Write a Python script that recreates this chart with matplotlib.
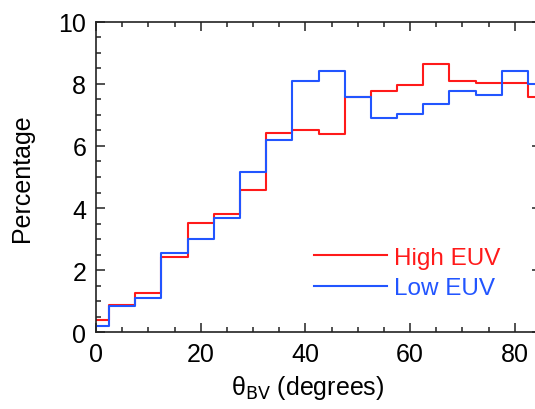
import numpy as np
import matplotlib.pyplot as plt

plt.rcParams["font.family"] = ["Liberation Sans", "DejaVu Sans"]

# bin centres (degrees), 5 degree wide bins
theta_bins = [0, 5, 10, 15, 20, 25, 30, 35, 40, 45, 50, 55, 60, 65, 70, 75, 80, 85]

high_euv = [0.38, 0.89, 1.27, 2.42, 3.51, 3.82, 4.59, 6.43, 6.51, 6.39,
            7.59, 7.78, 7.96, 8.65, 8.10, 8.04, 8.02, 7.57]
low_euv = [0.21, 0.84, 1.11, 2.55, 3.00, 3.69, 5.17, 6.18, 8.08, 8.40,
           7.59, 6.91, 7.03, 7.34, 7.77, 7.63, 8.40, 8.00]

x_ticks = [0, 20, 40, 60, 80]
y_ticks = [0, 2, 4, 6, 8, 10]


def plot_hist(ax, centres, values, color, label):
    # draw the histogram as steps with edges half way between centres
    centres = np.asarray(centres, dtype=float)
    edges = np.append(centres - 2.5, centres[-1] + 2.5)
    vals = np.append(values, values[-1])
    ax.step(edges, vals, where="post", color=color, lw=1.5, label=label)


fig = plt.figure(figsize=(5.35, 4.10), dpi=100)
ax = fig.add_axes([96 / 535, 1 - 333.3 / 410, 445 / 535, 310.6 / 410])

plot_hist(ax, theta_bins, high_euv, "#ff1a1a", "High EUV")
plot_hist(ax, theta_bins, low_euv, "#2255ff", "Low EUV")

ax.set_xlim(0, 85)
ax.set_ylim(0, 10)
ax.set_xticks(x_ticks)
ax.set_yticks(y_ticks)
ax.set_xticks(np.arange(0, 86, 5), minor=True)
ax.set_yticks(np.arange(0, 10.01, 0.5), minor=True)
ax.tick_params(which="both", direction="in", top=True, right=True,
               labelsize=18, width=1.1, color="#222222")
ax.tick_params(which="major", length=6.5, pad=7)
ax.tick_params(which="minor", length=3.3)
for spine in ax.spines.values():
    spine.set_linewidth(1.2)
    spine.set_color("#222222")

ax.set_ylabel("Percentage", fontsize=18)
ax.yaxis.set_label_coords((34 - 96) / 445, 0.5)
ax.set_xlabel("θ$_{\\rm BV}$ (degrees)", fontsize=18)
ax.xaxis.set_label_coords((308 - 96) / 445, (333.3 - 374) / 310.6)

leg = ax.legend(loc="center left", bbox_to_anchor=(314 / 535, 1 - 274 / 410),
                bbox_transform=fig.transFigure, frameon=False, fontsize=17.5,
                handlelength=3.0, handletextpad=0.3, labelspacing=0.35,
                borderpad=0, borderaxespad=0, labelcolor="linecolor")

fig.savefig("out.png", dpi=100)
